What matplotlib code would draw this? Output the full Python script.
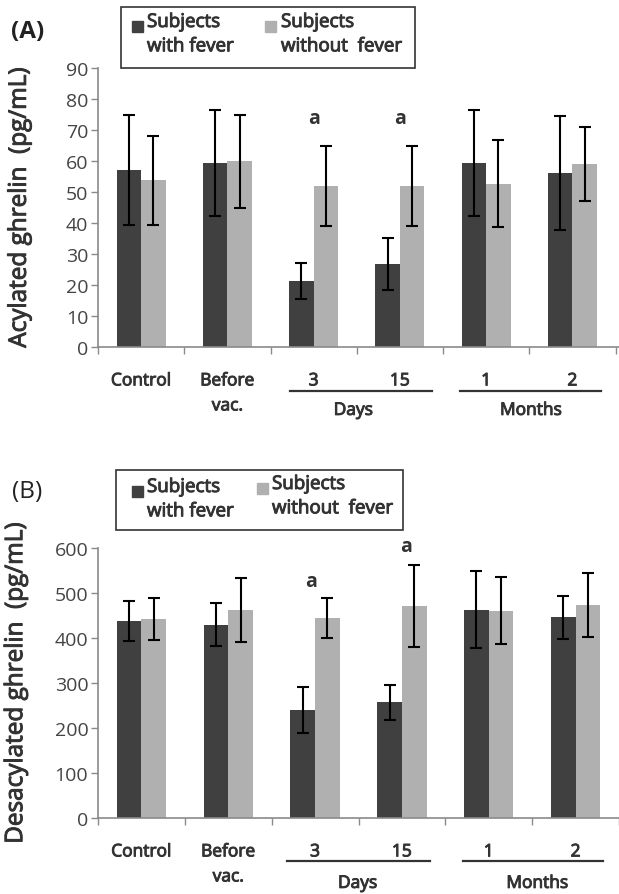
import numpy as np
import matplotlib
matplotlib.use('Agg')
import matplotlib.pyplot as plt
import matplotlib.patheffects as pe
from matplotlib.patches import Rectangle
from matplotlib.lines import Line2D

plt.rcParams['font.family'] = ['Open Sans', 'DejaVu Sans']

# data
groups = ['Control', 'Before\nvac.', '3', '15', '1', '2']
acyl_fever = [57.0, 59.3, 21.3, 26.9, 59.3, 56.2]
acyl_fever_err = [17.8, 17.0, 5.8, 8.4, 17.0, 18.3]
acyl_nofever = [53.8, 59.9, 51.9, 51.9, 52.7, 59.0]
acyl_nofever_err = [14.3, 15.0, 13.0, 13.0, 14.0, 12.0]
acyl_marks = [(2, 74), (3, 74)]

desacyl_fever = [438, 430, 240, 257, 463, 446]
desacyl_fever_err = [45, 47, 51, 39, 85, 48]
desacyl_nofever = [442, 463, 444, 472, 461, 473]
desacyl_nofever_err = [46, 71, 45, 91, 75, 71]
desacyl_marks = [(1.95, 527), (3.05, 604)]

dark = '#404040'
light = '#b0b0b0'
axcol = '#8a8a8a'
txtcol = '#333333'
# thin outline to get a semibold look
semi = [pe.withStroke(linewidth=0.7, foreground=txtcol)]

W, H = 619, 895
fig = plt.figure(figsize=(W / 100, H / 100), dpi=100)


def fx(px):
    return px / W


def fy(py):
    return 1 - py / H


def panel(top, bottom, ymax, ystep, fever, ferr, nofever, nerr, marks, ylabel,
          label_x, xright, lines, days_x, months_x, lab_y, word_y):
    ax = fig.add_axes([fx(98), fy(bottom), fx(619 - 98), (bottom - top) / H])
    x = np.arange(len(groups))
    bw = 0.285
    ax.bar(x - bw / 2, fever, bw, color=dark, zorder=2)
    ax.bar(x + bw / 2, nofever, bw, color=light, zorder=2)
    ax.errorbar(x - bw / 2, fever, yerr=ferr, fmt='none', ecolor='black',
                elinewidth=1.5, capsize=4.5, capthick=1.5, zorder=3)
    ax.errorbar(x + bw / 2, nofever, yerr=nerr, fmt='none', ecolor='black',
                elinewidth=1.5, capsize=4.5, capthick=1.5, zorder=3)
    for mx, my in marks:
        ax.text(mx, my, 'a', ha='center', va='center', fontsize=14,
                fontweight='bold', color=txtcol, clip_on=False)
    ax.set_xlim(-0.5, xright)
    ax.set_ylim(0, ymax)
    ax.set_yticks(np.arange(0, ymax + 1, ystep))
    ax.set_xticks(x)
    ax.set_xticklabels(groups, fontsize=12.5, color=txtcol, linespacing=1.75)
    for t in ax.get_xticklabels():
        t.set_path_effects(semi)
    ax.set_xticks(np.arange(-0.5, len(groups) - 0.4, 1), minor=True)
    ax.tick_params(axis='x', which='major', length=0, pad=19)
    ax.tick_params(axis='x', which='minor', length=5, width=1, color=axcol,
                   direction='out')
    ax.tick_params(axis='y', length=5, width=1, color=axcol, labelsize=14,
                   labelcolor='#444444', pad=2)
    for s in ['top', 'right']:
        ax.spines[s].set_visible(False)
    for s in ['left', 'bottom']:
        ax.spines[s].set_color(axcol)
        ax.spines[s].set_linewidth(1.2)
    yl = ax.set_ylabel(ylabel, fontsize=17.5, color=txtcol)
    yl.set_path_effects(semi)
    ax.yaxis.set_label_coords(label_x, 0.5)
    tr = ax.get_xaxis_transform()
    for x0, x1 in lines:
        ax.add_line(Line2D([x0, x1], [lab_y, lab_y], transform=tr,
                           color=txtcol, lw=1.6, clip_on=False))
    for wx, word in [(days_x, 'Days'), (months_x, 'Months')]:
        ax.text(wx, word_y, word, transform=tr, ha='center', va='center',
                fontsize=12.5, color=txtcol, path_effects=semi)
    return ax


def legend(x0, y0, x1, y1, sq1, sq2, t1, t2):
    fig.patches.append(Rectangle((fx(x0), fy(y1)), fx(x1 - x0), (y1 - y0) / H,
                                 transform=fig.transFigure, fill=False,
                                 edgecolor='#333333', lw=1.2))
    for (sx, sy), col in [(sq1, dark), (sq2, light)]:
        fig.patches.append(Rectangle((fx(sx), fy(sy + 11)), fx(11), 11 / H,
                                     transform=fig.transFigure, color=col))
    for (tx, ty), lab in [(t1, 'Subjects\nwith fever'),
                          (t2, 'Subjects\nwithout  fever')]:
        fig.text(fx(tx), fy(ty), lab, ha='left', va='top', fontsize=13.5,
                 color=txtcol, linespacing=1.45, path_effects=semi)


panel(69, 348, 90, 10, acyl_fever, acyl_fever_err, acyl_nofever,
      acyl_nofever_err, acyl_marks, 'Acylated ghrelin  (pg/mL)', -0.127, 5.54,
      [(1.73, 3.37), (3.70, 5.33)], 2.46, 4.52, -0.158, -0.229)
panel(549, 819, 600, 100, desacyl_fever, desacyl_fever_err, desacyl_nofever,
      desacyl_nofever_err, desacyl_marks, 'Desacylated ghrelin  (pg/mL)',
      -0.134, 5.49, [(1.68, 3.32), (3.70, 5.32)], 2.49, 4.56, -0.159, -0.244)

legend(121, 8, 415, 69, (132, 22), (265, 22), (147, 14), (281, 14))
legend(116, 471, 403, 531, (132, 487), (257, 484), (147, 479), (272, 476))

fig.text(fx(11), fy(32), '(A)', ha='left', va='center', fontsize=17.5,
         fontweight='bold', color='#222222')
fig.text(fx(12), fy(492), '(B)', ha='left', va='center', fontsize=17.5,
         color='#222222')

fig.savefig('out.png', dpi=100)
